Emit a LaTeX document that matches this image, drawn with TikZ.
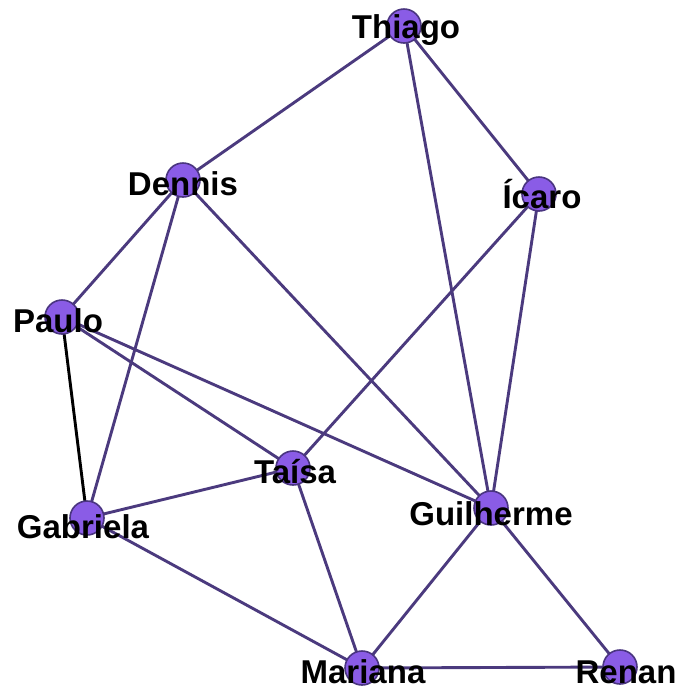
\documentclass[tikz,border=0pt]{standalone}
\usepackage{fontspec}
\setmainfont{Liberation Sans}
\definecolor{edgec}{HTML}{4B3A7E}
\definecolor{nodefill}{HTML}{8A5CE6}
\definecolor{nodeborder}{HTML}{4A3580}
\tikzset{
  edge/.style={draw=edgec, line width=2.9pt},
  blackedge/.style={draw=black, line width=2.9pt},
  dot/.style={circle, fill=nodefill, draw=nodeborder, line width=1.6pt, minimum size=34pt, inner sep=0pt},
  lbl/.style={anchor=base, inner sep=0pt, text=black, font=\fontsize{33}{36}\selectfont\bfseries}
}
\begin{document}
\begin{tikzpicture}[x=1pt,y=-1pt]
\useasboundingbox (0,0) rectangle (677,689);
% node centres
\coordinate (T) at (404,26);
\coordinate (D) at (183,180);
\coordinate (I) at (539,194);
\coordinate (P) at (62,317);
\coordinate (G) at (87,518);
\coordinate (A) at (293,468);
\coordinate (U) at (491,508);
\coordinate (M) at (362,668);
\coordinate (R) at (620,667);
% edges
\draw[edge] (T) -- (D);
\draw[edge] (T) -- (I);
\draw[edge] (T) -- (U);
\draw[edge] (D) -- (P);
\draw[edge] (D) -- (G);
\draw[edge] (D) -- (U);
\draw[edge] (I) -- (A);
\draw[edge] (I) -- (U);
\draw[blackedge] (P) -- (G);
\draw[edge] (P) -- (A);
\draw[edge] (P) -- (U);
\draw[edge] (G) -- (A);
\draw[edge] (G) -- (M);
\draw[edge] (A) -- (M);
\draw[edge] (U) -- (M);
\draw[edge] (U) -- (R);
\draw[edge] (M) -- (R);
% circles
\node[dot] (Tn) at (T) {};
\node[dot] (Dn) at (D) {};
\node[dot] (In) at (I) {};
\node[dot] (Pn) at (P) {};
\node[dot] (Gn) at (G) {};
\node[dot] (An) at (A) {};
\node[dot] (Un) at (U) {};
\node[dot] (Mn) at (M) {};
\node[dot] (Rn) at (R) {};
% labels
\node[lbl] (Tl) at (406,38) {Thiago};
\node[lbl] (Dl) at (183,195) {Dennis};
\node[lbl] (Il) at (542,208) {Ícaro};
\node[lbl] (Pl) at (58,332) {Paulo};
\node[lbl] (Gl) at (83,538) {Gabriela};
\node[lbl] (Al) at (295,483) {Taísa};
\node[lbl] (Ul) at (491,525) {Guilherme};
\node[lbl] (Ml) at (363,683) {Mariana};
\node[lbl] (Rl) at (626,683) {Renan};
\end{tikzpicture}
\end{document}
